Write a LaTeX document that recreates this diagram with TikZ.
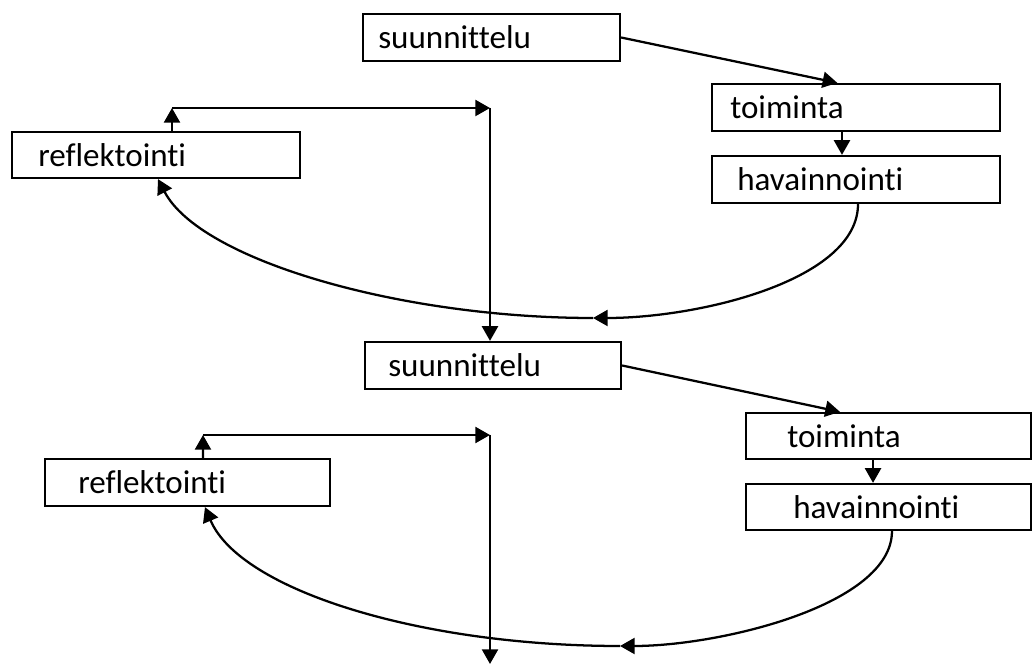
\documentclass[tikz,border=0pt]{standalone}
\usepackage{fontspec}
\setmainfont{Carlito}[Ligatures={NoCommon,NoContextual}]
\usetikzlibrary{arrows.meta,fit}
\begin{document}
\begin{tikzpicture}[x=0.75pt,y=-0.75pt,
  box/.style={draw, line width=1.7pt, inner sep=0pt},
  lbl/.style={anchor=west, inner sep=0pt, font=\fontsize{24.8}{28}\selectfont},
  arr/.style={line width=1.7pt, -{Triangle[length=11pt,width=12pt]}}]
\useasboundingbox (0,0) rectangle (1033,666);
% boxes
\node[box, fit={(363,14) (620,61)}] (s1) {};
\node[box, fit={(712,84) (1000,131)}] (t1) {};
\node[box, fit={(712,156) (1000,203)}] (h1) {};
\node[box, fit={(12,132) (300,178)}] (r1) {};
\node[box, fit={(365,342) (621,389)}] (s2) {};
\node[box, fit={(746,413) (1031,459)}] (t2) {};
\node[box, fit={(746,484) (1031,530)}] (h2) {};
\node[box, fit={(45,459) (330,506)}] (r2) {};
% labels
\node[lbl] (s1t) at (378,37.5) {suunnittelu};
\node[lbl] (t1t) at (730,107.5) {toiminta};
\node[lbl] (h1t) at (737,179.5) {havainnointi};
\node[lbl] (r1t) at (38,155) {reflektointi};
\node[lbl] (s2t) at (388,365.5) {suunnittelu};
\node[lbl] (t2t) at (787,436) {toiminta};
\node[lbl] (h2t) at (793,507) {havainnointi};
\node[lbl] (r2t) at (78,482.5) {reflektointi};
% junction coordinates
\coordinate (m1) at (593,318);
\coordinate (c1) at (172,108);
\coordinate (c2) at (490,108);
\coordinate (m2) at (620,646);
\coordinate (c3) at (203,435);
\coordinate (c4) at (490,435);
\coordinate (c5) at (490,664);
% first cycle
\draw[arr] (s1.east) -- ([xshift=-14pt]t1.north);
\draw[arr] ([xshift=-10.5pt]t1.south) -- ([xshift=-10.5pt]h1.north);
\draw[arr] ([xshift=1.5pt]h1.south) .. controls (858,280) and (700,318) .. (m1);
\draw[arr] (m1) .. controls (400,318) and (200,260) .. ([xshift=1.5pt]r1.south);
\draw[arr] ([xshift=12pt]r1.north) -- (c1);
\draw[arr] (c1) -- (c2);
\draw[arr] (c2) -- (c2 |- s2.north);
% second cycle
\draw[arr] (s2.east) -- ([xshift=-36.4pt]t2.north);
\draw[arr] ([xshift=-11.6pt]t2.south) -- ([xshift=-11.6pt]h2.north);
\draw[arr] ([xshift=2.6pt]h2.south) .. controls (892,605) and (720,646) .. (m2);
\draw[arr] (m2) .. controls (420,646) and (240,590) .. ([xshift=13.1pt]r2.south);
\draw[arr] ([xshift=11.6pt]r2.north) -- (c3);
\draw[arr] (c3) -- (c4);
\draw[arr] (c4) -- (c5);
\end{tikzpicture}
\end{document}
